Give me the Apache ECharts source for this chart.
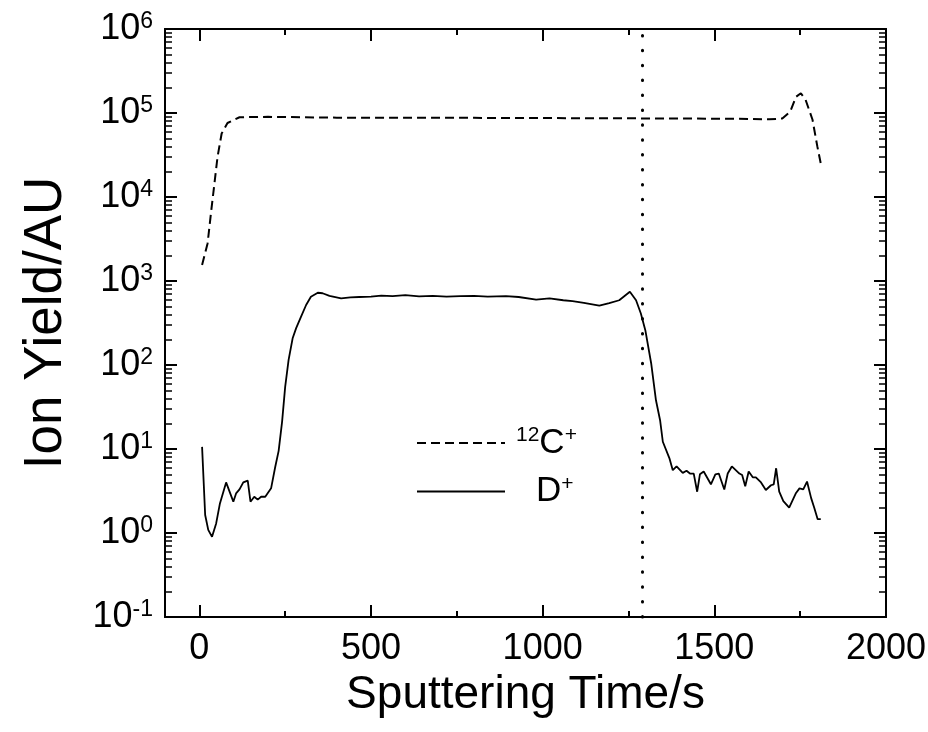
<!DOCTYPE html>
<html lang="en">
<head>
<meta charset="UTF-8">
<title>Ion Yield</title>
<script src="https://cdn.jsdelivr.net/npm/echarts@6/dist/echarts.min.js"></script>
</head>
<body style="margin:0">
<div id="main" style="width: 928px;height: 732px;"></div>
<script type="text/javascript">
// 12C+ (dashed)
var cTime = [8, 24, 34, 44, 53, 65, 82, 117, 200, 400, 600, 800, 1000, 1200, 1400, 1600, 1660, 1698, 1721, 1738, 1752, 1766, 1786, 1800, 1810];
var cYield = [1550, 2800, 6500, 14500, 30000, 57000, 76000, 89000, 90000, 88000, 88000, 87500, 87000, 86500, 86000, 85000, 84000, 86000, 104000, 156000, 172000, 143000, 83000, 40000, 25000];

// D+ (solid)
var dTime = [8, 17, 26, 37, 49, 60, 78, 99, 107, 117, 128, 141, 149, 160, 170, 180, 192, 209, 221, 231, 241, 250, 260, 272, 282, 296, 311, 325, 345, 359, 379, 413, 440, 466, 500, 530, 563, 600, 640, 680, 720, 760, 800, 840, 893, 930, 981, 1020, 1060, 1087, 1120, 1165, 1194, 1223, 1254, 1272, 1286, 1299, 1316, 1330, 1342, 1350, 1369, 1379, 1390, 1408, 1419, 1429, 1440, 1450, 1458, 1469, 1490, 1503, 1513, 1529, 1539, 1551, 1573, 1581, 1590, 1600, 1612, 1621, 1636, 1650, 1665, 1673, 1680, 1689, 1701, 1718, 1738, 1748, 1759, 1770, 1782, 1791, 1801, 1810];
var dYield = [10.6, 1.64, 1.09, 0.9, 1.3, 2.25, 4.0, 2.36, 2.96, 3.3, 4.0, 4.2, 2.36, 2.7, 2.5, 2.7, 2.7, 3.4, 6.1, 9.5, 21, 55, 115, 210, 275, 375, 518, 650, 725, 715, 665, 622, 640, 645, 650, 670, 660, 680, 655, 665, 650, 660, 665, 650, 660, 645, 600, 620, 590, 575, 550, 508, 545, 590, 745, 590, 410, 260, 105, 38, 22, 12.2, 7.8, 5.6, 6.2, 5.2, 5.5, 5.1, 5.1, 3.1, 5.0, 5.4, 3.8, 5.0, 5.1, 3.3, 5.1, 6.2, 5.1, 4.9, 3.6, 5.4, 4.6, 4.6, 4.0, 3.25, 3.7, 3.8, 5.9, 3.1, 2.4, 2.0, 3.0, 3.4, 3.3, 4.1, 2.6, 2.0, 1.46, 1.46];

var xMajor = [0, 500, 1000, 1500, 2000];
var xMinor = [250, 750, 1250, 1750];
var markTime = 1290;

var font = 'Liberation Sans, Arial, sans-serif';

function pairs(xs, ys) {
    return xs.map(function (x, i) { return [x, ys[i]]; });
}

function xAxisFor(pos, ticks, len, labels) {
    var ax = {
        type: 'value',
        min: -100,
        max: 2000,
        position: pos,
        axisLine: { show: true, onZero: false, lineStyle: { color: '#000', width: 2 } },
        axisTick: { show: true, inside: true, length: len, customValues: ticks, lineStyle: { color: '#000', width: 2 } },
        axisLabel: { show: false },
        splitLine: { show: false }
    };
    if (labels) {
        ax.axisLabel = {
            show: true, customValues: ticks, color: '#000', fontSize: 36,
            fontFamily: font, margin: 14,
            formatter: function (v) { return String(v); }
        };
        ax.name = 'Sputtering Time/s';
        ax.nameLocation = 'middle';
        ax.nameGap = 46;
        ax.nameTextStyle = { color: '#000', fontSize: 46, fontFamily: font };
    }
    return ax;
}

function yAxisFor(pos, labels) {
    var ax = {
        type: 'log',
        logBase: 10,
        min: 0.1,
        max: 1000000,
        interval: 1,
        position: pos,
        axisLine: { show: true, onZero: false, lineStyle: { color: '#000', width: 2 } },
        axisTick: { show: true, inside: true, length: 12, lineStyle: { color: '#000', width: 2 } },
        minorTick: { show: true, splitNumber: 9, length: 7, lineStyle: { color: '#000', width: 1.5 } },
        axisLabel: { show: false },
        splitLine: { show: false },
        minorSplitLine: { show: false }
    };
    if (labels) {
        ax.axisLabel = {
            show: true,
            margin: 12,
            formatter: function (v) {
                var e = Math.round(Math.log(v) / Math.LN10);
                return '{b|10}{e|' + e + '}';
            },
            rich: {
                b: { fontSize: 36, lineHeight: 38, fontFamily: font, color: '#000' },
                e: { fontSize: 23, lineHeight: 16, verticalAlign: 'top', fontFamily: font, color: '#000' }
            }
        };
        ax.name = 'Ion Yield/AU';
        ax.nameLocation = 'middle';
        ax.nameGap = 92;
        ax.nameTextStyle = { color: '#000', fontSize: 53, fontFamily: font };
    }
    return ax;
}

var myChart = echarts.init(document.getElementById('main'), null, { renderer: 'canvas' });

var option = {
    animation: false,
    backgroundColor: '#fff',
    grid: { left: 165, right: 42, top: 29, bottom: 115, containLabel: false, outerBoundsMode: 'none' },
    legend: {
        orient: 'vertical',
        left: 416,
        top: 425,
        padding: 0,
        itemWidth: 88,
        itemHeight: 14,
        itemGap: 13,
        selectedMode: false,
        data: ['C', 'D'],
        itemStyle: { color: 'transparent', borderColor: 'transparent', borderWidth: 0 },
        formatter: function (name) {
            return name === 'C' ? '{q| }{s|12}{b|C}{s|+}' : '{p| }{b|D}{s|+}';
        },
        textStyle: {
            color: '#000',
            rich: {
                q: { width: 6 },
                p: { width: 26 },
                b: { fontSize: 35, lineHeight: 36, fontFamily: font, color: '#000' },
                s: { fontSize: 21, lineHeight: 12, verticalAlign: 'top', fontFamily: font, color: '#000' }
            }
        }
    },
    xAxis: [
        xAxisFor('bottom', xMajor, 12, true),
        xAxisFor('top', xMajor, 12, false),
        xAxisFor('bottom', xMinor, 6, false),
        xAxisFor('top', xMinor, 6, false)
    ],
    yAxis: [
        yAxisFor('left', true),
        yAxisFor('right', false)
    ],
    series: [
        {
            name: 'C',
            type: 'line',
            showSymbol: false,
            symbol: 'none',
            silent: true,
            data: pairs(cTime, cYield),
            lineStyle: { color: '#000', width: 2, type: [9, 5] },
            itemStyle: { color: '#000' }
        },
        {
            name: 'D',
            type: 'line',
            showSymbol: false,
            symbol: 'none',
            silent: true,
            data: pairs(dTime, dYield),
            lineStyle: { color: '#000', width: 1.8, type: 'solid' },
            itemStyle: { color: '#000' },
            markLine: {
                silent: true,
                symbol: ['none', 'none'],
                label: { show: false },
                lineStyle: { color: '#000', width: 3, type: [0.5, 14.4], cap: 'round' },
                data: [{ xAxis: markTime }]
            }
        }
    ]
};

myChart.setOption(option);
</script>
</body>
</html>
